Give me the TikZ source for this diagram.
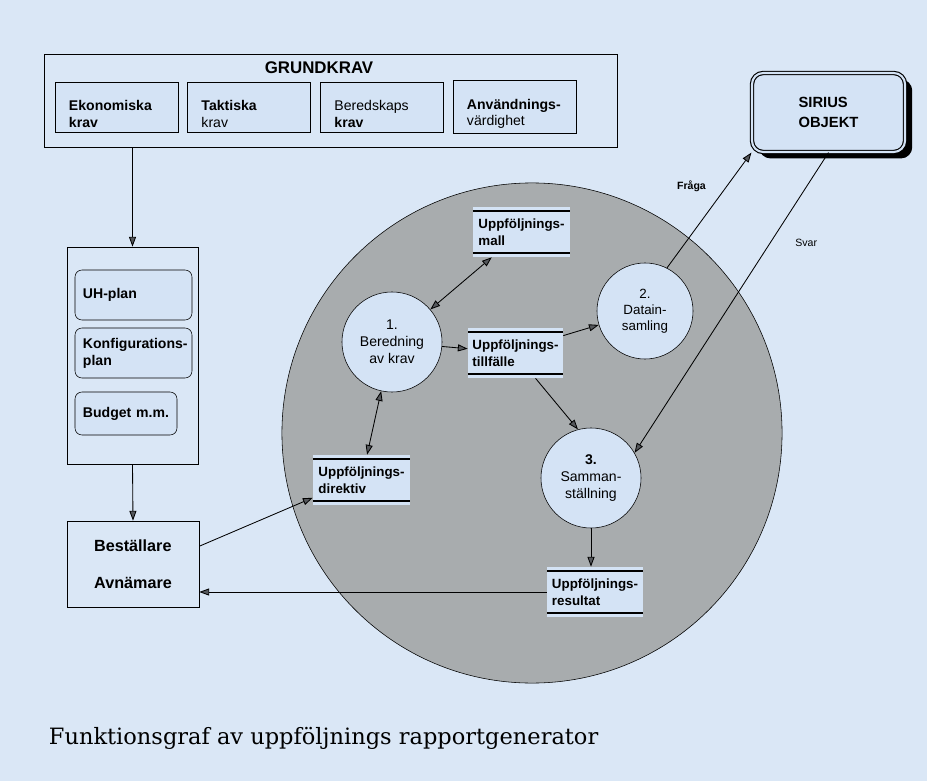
\documentclass[tikz,border=0pt]{standalone}
\usepackage{fontspec}
\setsansfont{Liberation Sans}
\newfontfamily\capfont{DejaVu Serif}
\usetikzlibrary{arrows.meta,shadows}
\definecolor{paper}{RGB}{218,231,246}
\definecolor{boxblue}{RGB}{212,227,245}
\definecolor{hatch}{RGB}{168,172,174}
\definecolor{tipgray}{RGB}{85,88,92}
\hyphenpenalty=10000

\begin{document}
\begin{tikzpicture}[
        x=0.025cm, y=-0.025cm,
        krav/.style={
            draw,
            fill=boxblue,
            minimum width=3.075cm,
            minimum height=1.25cm,
            text width=2.375cm,
            inner xsep=0.35cm,
            align=left,
            execute at begin node={\rule{0pt}{17pt}},
            font=\sffamily\fontsize{10}{12}\selectfont
        },
        plan/.style={
            draw,
            rounded corners=5pt,
            fill=boxblue,
            minimum height=1.25cm,
            inner xsep=0.2cm,
            align=left,
            font=\sffamily\bfseries\fontsize{10}{12}\selectfont
        },
        store/.style={
            fill=boxblue,
            minimum height=1.25cm,
            inner xsep=0.08cm,
            align=left,
            font=\sffamily\bfseries\fontsize{9.5}{12}\selectfont,
            path picture={
                \draw[line width=1.1pt]
                    ([yshift=-3pt]path picture bounding box.north west) -- ([yshift=-3pt]path picture bounding box.north east)
                    ([yshift=3pt]path picture bounding box.south west) -- ([yshift=3pt]path picture bounding box.south east);
            }
        },
        proc/.style={
            circle,
            draw,
            fill=boxblue,
            inner sep=0pt,
            align=center,
            font=\sffamily\fontsize{10}{12}\selectfont
        },
        arrow/.style={-{Triangle[length=7pt,width=5pt,fill=tipgray]}, semithick},
        twoway/.style={{Triangle[length=7pt,width=5pt,fill=tipgray]}-{Triangle[length=7pt,width=5pt,fill=tipgray]}, semithick},
        tag/.style={font=\sffamily\fontsize{7.5}{9}\selectfont}
    ]

    \fill[paper] (0,0) rectangle (927,781);
    \useasboundingbox (0,0) rectangle (927,781);

    % =========================
    % Grundkrav
    % =========================
    \node[draw, minimum width=14.325cm, minimum height=2.325cm] (grund) at (330.5,100.5) {};
    \node[font=\sffamily\bfseries\fontsize{12}{14}\selectfont] (grundtitle) at (319,68) {GRUNDKRAV};

    \node[krav] (ekon)   at (116.5,107) {\textbf{Ekonomiska}\\\textbf{krav}};
    \node[krav] (takt)   at (249,107)   {\textbf{Taktiska}\\krav};
    \node[krav] (bered)  at (382,107)   {Beredskaps\\\textbf{krav}};
    \node[krav] (anvand) at (514.5,107) {\textbf{Användnings-}\\värdighet};

    % =========================
    % Planer och beställare
    % =========================
    \node[draw, minimum width=3.275cm, minimum height=5.425cm] (plans) at (132.5,355.5) {};
    \node[plan, minimum width=2.925cm, text width=2.525cm] (uh)     at (133.5,295) {UH-plan};
    \node[plan, minimum width=2.925cm, text width=2.525cm] (konf)   at (133.5,353) {\mbox{Konfigurations-}\\plan};
    \node[plan, minimum width=2.55cm, minimum height=1.075cm, text width=2.15cm] (budget) at (126,413.5) {Budget m.m.};

    \node[draw, minimum width=3.3cm, minimum height=2.15cm, align=left,
          font=\sffamily\bfseries\fontsize{11.5}{13.8}\selectfont] (best) at (133,564) {Beställare\\[4.4mm]Avnämare};

    \draw[arrow] (plans.north |- grund.south) -- (plans.north);
    \draw[arrow] (plans.south) -- (best.north);

    % =========================
    % Rapportgenerator
    % =========================
    \node[circle, draw, fill=hatch, minimum size=12.5cm] (gen) at (532,433) {};

    \node[proc, minimum size=2.5cm] (bered1) at (392,342) {1.\\Beredning\\av krav};
    \node[proc, minimum size=2.4cm, font=\sffamily\fontsize{9.5}{11.5}\selectfont] (data2) at (645,311) {2.\\Datain-\\samling};
    \node[proc, minimum size=2.5cm] (samm3) at (591,478) {\textbf{3.}\\Samman-\\ställning};

    \node[store, minimum width=2.425cm] (mall)     at (521.5,232) {Uppföljnings-\\mall};
    \node[store, minimum width=2.375cm] (till)     at (515.5,353) {Uppföljnings-\\tillfälle};
    \node[store, minimum width=2.425cm] (direktiv) at (361.5,480) {Uppföljnings-\\direktiv};
    \node[store, minimum width=2.4cm]   (result)   at (595,592)   {Uppföljnings-\\resultat};

    % =========================
    % Sirius
    % =========================
    \node[draw, thick, double=boxblue, double distance=1.5pt, rounded corners=8pt, fill=boxblue,
          drop shadow={fill=black, opacity=1, shadow xshift=0.18cm, shadow yshift=-0.16cm},
          minimum width=3.825cm, minimum height=1.975cm, align=left,
          font=\sffamily\bfseries\fontsize{10.5}{14}\selectfont] (sirius) at (828.5,112.5) {SIRIUS\\OBJEKT};

    \draw[twoway] (bered1) -- (mall);
    \draw[arrow] (bered1) -- (till);
    \draw[arrow] (till.20) -- (data2);
    \draw[twoway] (bered1) -- (direktiv);
    \draw[arrow] ([xshift=0.5cm]till.south) -- (samm3.105);
    \draw[arrow] (data2.63) -- (sirius.south west)
        node[tag, pos=0.71, left=0.4cm, font=\sffamily\bfseries\fontsize{7.5}{9}\selectfont] (fraga) {Fråga};
    \draw[arrow] (sirius.south) -- (samm3.30)
        node[tag, pos=0.3, right=0.5cm] (svar) {Svar};
    \draw[arrow] (samm3.south) -- (samm3.south |- result.north);
    \draw[arrow] (result.west) -- (result.west -| best.east);
    \draw[arrow] (best.15) -- (direktiv.200);

    \node[anchor=west, font=\capfont\fontsize{16}{19}\selectfont] (caption) at (44,738) {Funktionsgraf av uppföljnings rapportgenerator};

\end{tikzpicture}
\end{document}
